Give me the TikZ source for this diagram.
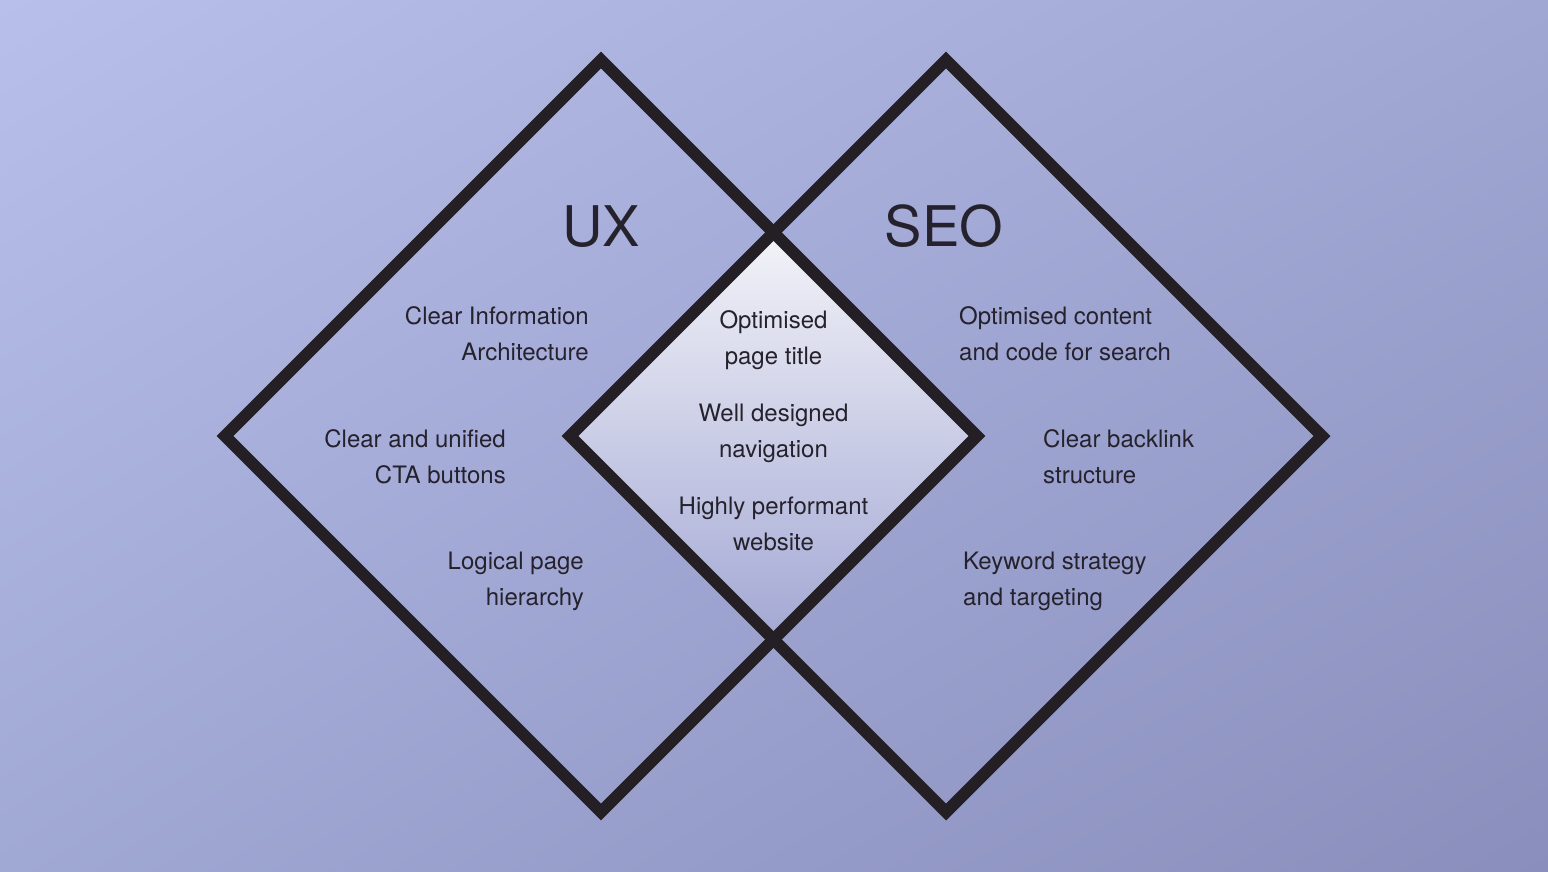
\documentclass[tikz,border=0pt]{standalone}
\usepackage{fontspec}
\setmainfont{TeX Gyre Heros}
\usetikzlibrary{shadings}
\begin{document}
\begin{tikzpicture}[x=1pt,y=-1pt,
  lbl/.style={inner sep=0pt, text=inkc, font=\fontsize{24}{36}\selectfont},
  lblr/.style={lbl, align=right, anchor=base east},
  lbll/.style={lbl, align=left, anchor=base west},
  lblc/.style={lbl, align=center, anchor=base},
  ttl/.style={inner sep=0pt, text=inkc, font=\fontsize{56}{60}\selectfont, anchor=base},
  dia/.style={draw=linec, line width=12pt, line join=miter}]
\definecolor{inkc}{HTML}{25222D}
\definecolor{linec}{HTML}{231F24}
\definecolor{bgtl}{HTML}{B8BFEB}
\definecolor{bgtr}{HTML}{A0A7D3}
\definecolor{bgbl}{HTML}{A0A8D4}
\definecolor{bgbr}{HTML}{8A8EBC}
\definecolor{midtop}{HTML}{F3F3F8}
\definecolor{midbot}{HTML}{A3A8D4}
\useasboundingbox (0,0) rectangle (1548,872);
\shade[upper left=bgtl, upper right=bgtr, lower left=bgbl, lower right=bgbr] (0,0) rectangle (1548,872);
% vertices
\coordinate (Lt) at (601,60);
\coordinate (Ll) at (225,436);
\coordinate (Lb) at (601,812);
\coordinate (Lr) at (977,436);
\coordinate (Rt) at (946,60);
\coordinate (Rl) at (570,436);
\coordinate (Rb) at (946,812);
\coordinate (Rr) at (1322,436);
\coordinate (Mt) at (773.5,232.5);
\coordinate (Mb) at (773.5,639.5);
% middle overlap
\shade[top color=midtop, bottom color=midbot] (Mt) -- (Lr) -- (Mb) -- (Rl) -- cycle;
% diamonds
\draw[dia] (Lt) -- (Lr) -- (Lb) -- (Ll) -- cycle;
\draw[dia] (Rt) -- (Rr) -- (Rb) -- (Rl) -- cycle;
% titles
\node[ttl] (ux) at (601,246) {UX};
\node[ttl] (seo) at (944,246) {SEO};
% left
\node[lblr] (l1) at (589,360) {Clear Information\\Architecture};
\node[lblr] (l2) at (506,483) {Clear and unified\\CTA buttons};
\node[lblr] (l3) at (584,605) {Logical page\\hierarchy};
% middle
\node[lblc] (m1) at (773.5,364) {Optimised\\page title};
\node[lblc] (m2) at (773.5,457) {Well designed\\navigation};
\node[lblc] (m3) at (773.5,550) {Highly performant\\website};
% right
\node[lbll] (r1) at (959,360) {Optimised content\\and code for search};
\node[lbll] (r2) at (1043,483) {Clear backlink\\structure};
\node[lbll] (r3) at (963,605) {Keyword strategy\\and targeting};
\end{tikzpicture}
\end{document}
